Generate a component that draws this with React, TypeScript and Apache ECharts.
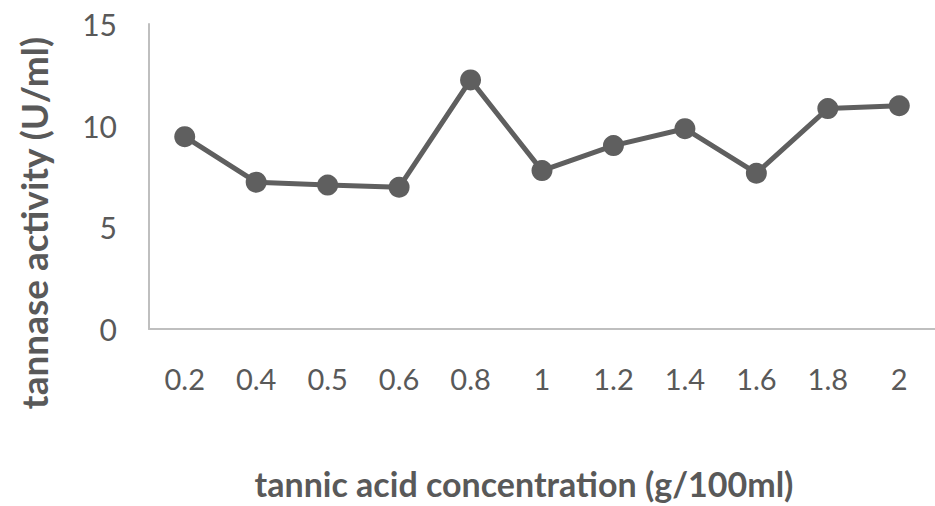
import React, { useEffect, useRef } from "react";
import * as echarts from "echarts";

const categories = ["0.2", "0.4", "0.5", "0.6", "0.8", "1", "1.2", "1.4", "1.6", "1.8", "2"];
const activity = [9.46, 7.22, 7.08, 6.97, 12.25, 7.79, 9.02, 9.85, 7.66, 10.84, 10.98];
const yTicks = { min: 0, max: 15, interval: 5 };
const xTitle = "tannic acid concentration (g/100ml)";
const yTitle = "tannase activity (U/ml)";

export default function App() {
  const ref = useRef<HTMLDivElement>(null);
  useEffect(() => {
    if (!ref.current) return;
    const chart = echarts.init(ref.current, undefined, { renderer: "svg" });
    const font = "Lato, 'Open Sans', sans-serif";
    chart.setOption({
      animation: false,
      grid: { left: 149, right: -16, top: 24, bottom: 177, containLabel: false },
      xAxis: {
        type: "category",
        data: categories,
        boundaryGap: true,
        axisLine: { lineStyle: { color: "#bfbfbf", width: 2 } },
        axisTick: { show: false },
        axisLabel: { color: "#595959", fontSize: 29, fontFamily: font, margin: 35 },
      },
      yAxis: {
        type: "value",
        min: yTicks.min,
        max: yTicks.max,
        interval: yTicks.interval,
        axisLine: { show: true, lineStyle: { color: "#bfbfbf", width: 2 } },
        axisTick: { show: false },
        splitLine: { show: false },
        axisLabel: { color: "#595959", fontSize: 30, fontFamily: font, margin: 32 },
      },
      graphic: [
        {
          type: "text",
          x: 524,
          y: 483,
          style: {
            text: xTitle,
            fontSize: 34,
            fontWeight: "bold",
            fill: "#595959",
            fontFamily: font,
            align: "center",
            verticalAlign: "middle",
          },
        },
        {
          type: "text",
          x: 33,
          y: 223,
          rotation: Math.PI / 2,
          style: {
            text: yTitle,
            fontSize: 37,
            fontWeight: "bold",
            fill: "#595959",
            fontFamily: font,
            align: "center",
            verticalAlign: "middle",
          },
        },
      ],
      series: [
        {
          type: "line",
          data: activity,
          symbol: "circle",
          symbolSize: 21,
          lineStyle: { color: "#5f5f5f", width: 5 },
          itemStyle: { color: "#5f5f5f" },
        },
      ],
    });
    return () => chart.dispose();
  }, []);
  return <div ref={ref} style={{ width: 935, height: 506, position: "absolute", left: 0, top: 0 }} />;
}
